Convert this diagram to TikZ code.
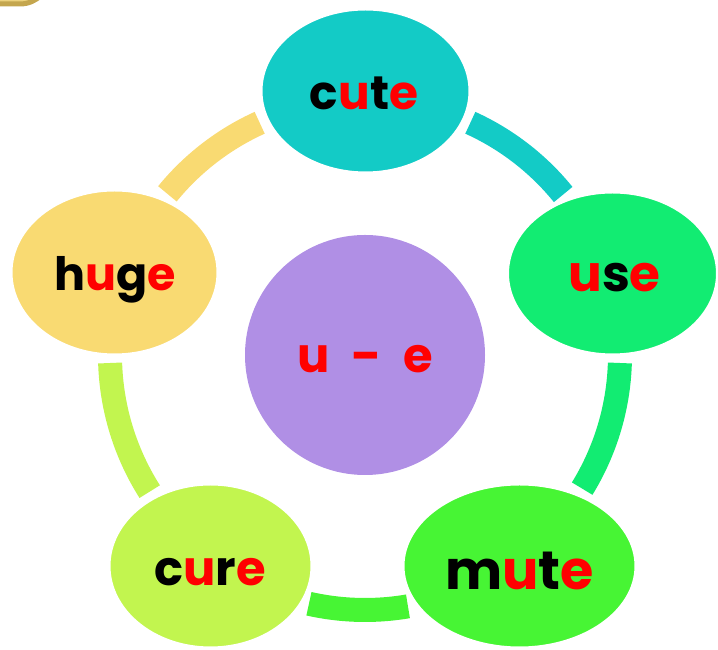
\documentclass[tikz,border=0pt]{standalone}
\usepackage{fontspec}
\setmainfont{Poppins}
\usetikzlibrary{shapes.geometric,calc}
\definecolor{cteal}{HTML}{13CBC6}
\definecolor{cuse}{HTML}{12EC72}
\definecolor{cmute}{HTML}{47F534}
\definecolor{ccure}{HTML}{C2F54F}
\definecolor{chuge}{HTML}{F9DA72}
\definecolor{cpurple}{HTML}{B08FE5}
\definecolor{cred}{HTML}{FF0000}
\definecolor{golddark}{HTML}{C4A64E}
\definecolor{goldlight}{HTML}{ECD27E}
\newcommand{\R}[1]{\textcolor{cred}{#1}}
\begin{document}
\begin{tikzpicture}[x=1pt,y=1pt,
  blob/.style={ellipse, draw=white, line width=3pt, inner sep=0pt},
  ring/.style={line width=24pt},
  word/.style={anchor=base, inner sep=0pt, text=black},
  fs/.style={font=\bfseries\fontsize{#1}{#1}\selectfont}]
\useasboundingbox (0,0) rectangle (718,650);
\begin{scope}
\clip (0,0) rectangle (718,650);
\draw[fill=goldlight, draw=golddark, line width=5pt, rounded corners=30pt] (-200,646) rectangle (50,900);
\coordinate (O) at (365,295);
\draw[ring, cteal] ($(O)+(65.6:255)$) arc[start angle=65.6, end angle=39, radius=255];
\draw[ring, cuse] ($(O)+(-1.8:255)$) arc[start angle=-1.8, end angle=-31.6, radius=255];
\draw[ring, cmute] ($(O)+(-80.3:255)$) arc[start angle=-80.3, end angle=-102.7, radius=255];
\draw[ring, ccure] ($(O)+(212.4:255)$) arc[start angle=212.4, end angle=181.8, radius=255];
\draw[ring, chuge] ($(O)+(140.8:255)$) arc[start angle=140.8, end angle=114.4, radius=255];
\node[blob, fill=cteal, minimum width=209pt, minimum height=164pt] (cute) at (365.5,559) {};
\node[blob, fill=cuse, minimum width=210pt, minimum height=163pt] (use) at (612.5,376.5) {};
\node[blob, fill=cmute, minimum width=233pt, minimum height=164pt] (mute) at (519.5,84) {};
\node[blob, fill=ccure, minimum width=203pt, minimum height=164pt] (cure) at (210.5,84) {};
\node[blob, fill=chuge, minimum width=207pt, minimum height=165pt] (huge) at (114.5,377.5) {};
\node[circle, fill=cpurple, minimum size=240pt, inner sep=0pt] (hub) at (O) {};
\node[word, fs=47] (tcute) at (364,540) {c\R{u}t\R{e}};
\node[word, fs=50] (tuse) at (614.5,358) {\R{u}s\R{e}};
\node[word, fs=54] (tmute) at (519.5,60) {m\R{u}t\R{e}};
\node[word, fs=48] (tcure) at (210,64) {c\R{u}r\R{e}};
\node[word, fs=46] (thuge) at (115,359) {h\R{u}g\R{e}};
\node[word, fs=48] (thub) at (365,277) {\R{u\hspace{0.45em}\scalebox{1.1}[1]{-}\hspace{0.45em}e}};
\end{scope}
\end{tikzpicture}
\end{document}
